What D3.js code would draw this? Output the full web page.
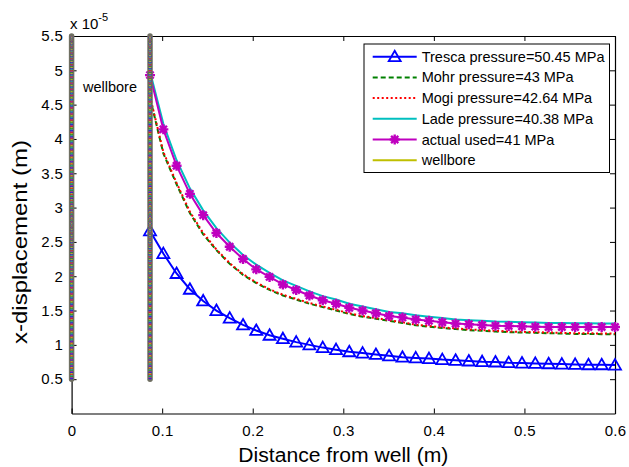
<!DOCTYPE html>
<html><head><meta charset="utf-8">
<script src="https://cdn.jsdelivr.net/npm/d3@7"></script>
<style>body{margin:0;background:#fff}svg{display:block;font-family:"Liberation Sans",Arial,sans-serif}</style>
</head><body><svg id="c" width="629" height="467"></svg>
<script>
// ---- data (values in units of 1e-5 m) ----
const distance = [0.0866,0.1013,0.1159,0.1306,0.1453,0.1599,0.1746,0.1893,0.2039,0.2186,0.2333,0.2480,0.2626,0.2773,0.2920,0.3066,0.3213,0.3360,0.3506,0.3653,0.3800,0.3946,0.4093,0.4240,0.4386,0.4533,0.4680,0.4826,0.4973,0.5120,0.5267,0.5413,0.5560,0.5707,0.5853,0.6000];
const tresca = [2.66,2.33,2.04,1.81,1.64,1.50,1.39,1.29,1.21,1.14,1.09,1.04,1.00,0.96,0.93,0.90,0.88,0.86,0.84,0.82,0.81,0.80,0.785,0.775,0.765,0.755,0.75,0.74,0.735,0.73,0.725,0.72,0.715,0.71,0.71,0.705];
const mohr = [4.60,3.79,3.34,2.92,2.61,2.38,2.18,2.02,1.90,1.80,1.72,1.66,1.60,1.55,1.50,1.45,1.41,1.38,1.35,1.32,1.285,1.265,1.245,1.23,1.215,1.205,1.195,1.185,1.18,1.175,1.17,1.165,1.16,1.16,1.155,1.155];
const mogi = [4.62,3.81,3.36,2.94,2.63,2.39,2.19,2.03,1.91,1.81,1.73,1.67,1.61,1.56,1.51,1.46,1.42,1.39,1.36,1.33,1.295,1.275,1.255,1.24,1.225,1.215,1.205,1.195,1.19,1.185,1.18,1.175,1.17,1.17,1.165,1.165];
const lade = [4.98,4.22,3.69,3.28,2.96,2.70,2.49,2.31,2.17,2.05,1.94,1.86,1.78,1.71,1.66,1.60,1.56,1.52,1.48,1.46,1.43,1.41,1.39,1.37,1.36,1.35,1.34,1.335,1.33,1.325,1.32,1.32,1.315,1.315,1.31,1.31];
const actual = [4.93,4.14,3.61,3.20,2.89,2.63,2.43,2.25,2.10,1.99,1.88,1.80,1.72,1.65,1.60,1.54,1.50,1.46,1.42,1.40,1.37,1.35,1.33,1.31,1.30,1.29,1.28,1.275,1.27,1.265,1.26,1.26,1.26,1.26,1.26,1.26];
const wellboreX = [0, 0.0866];
const wellboreY = [0.5, 5.5];
const xTicks = [0,0.1,0.2,0.3,0.4,0.5,0.6];
const yTicks = [0.5,1,1.5,2,2.5,3,3.5,4,4.5,5,5.5];
const legendLabels = ["Tresca pressure=50.45 MPa","Mohr pressure=43 MPa","Mogi pressure=42.64 MPa","Lade pressure=40.38 MPa","actual used=41 MPa","wellbore"];

const svg = d3.select("#c");
const L=71.6, R=615, T=36, B=413.5;
const x = d3.scaleLinear().domain([0,0.6]).range([L,R]);
const y = d3.scaleLinear().domain([0,5.5]).range([B,T]);

// axes frame
const g = svg.append("g");
const tickLen = 5;
function axisStyle(sel){ sel.select(".domain").attr("stroke","#000").attr("stroke-width",1.2); sel.selectAll(".tick line").attr("stroke","#000"); sel.selectAll("text").attr("fill","#000").style("font-size","15px").style("letter-spacing","0.3px"); }
g.append("g").attr("transform",`translate(0,${B})`).call(d3.axisBottom(x).tickValues(xTicks).tickFormat(d3.format("")).tickSizeInner(-tickLen).tickSizeOuter(0).tickPadding(12)).call(axisStyle);
g.append("g").attr("transform",`translate(0,${T})`).call(d3.axisTop(x).tickValues(xTicks).tickFormat("").tickSizeInner(-tickLen).tickSizeOuter(0)).call(axisStyle);
g.append("g").attr("transform",`translate(${L},0)`).call(d3.axisLeft(y).tickValues(yTicks).tickFormat(d3.format("")).tickSizeInner(-tickLen).tickSizeOuter(0).tickPadding(8.5)).call(axisStyle);
g.append("g").attr("transform",`translate(${R},0)`).call(d3.axisRight(y).tickValues(yTicks).tickFormat("").tickSizeInner(-tickLen).tickSizeOuter(0)).call(axisStyle);

// exponent label
const ex = svg.append("text").attr("x",70).attr("y",29).style("font-size","15px");
ex.append("tspan").text("x 10");
ex.append("tspan").attr("dy",-8).style("font-size","11px").text("-5");

// axis titles
svg.append("text").attr("x",(L+R)/2).attr("y",462).attr("text-anchor","middle").style("font-size","20px").attr("textLength",210).attr("lengthAdjust","spacingAndGlyphs").text("Distance from well (m)");
svg.append("text").attr("transform",`translate(27,${(140+344)/2}) rotate(-90)`).attr("text-anchor","middle").style("font-size","20px").attr("textLength",204).attr("lengthAdjust","spacingAndGlyphs").text("x-displacement (m)");

const line = d3.line().x((d,i)=>x(distance[i])).y(d=>y(d));
const plot = svg.append("g");
const triPath = "M0,-6L6,4.5L-6,4.5Z";
const starPath = "M0,-5V5M-5,0H5M-3.6,-3.6L3.6,3.6M-3.6,3.6L3.6,-3.6";

// Tresca
plot.append("path").attr("d",line(tresca)).attr("fill","none").attr("stroke","#0000ff").attr("stroke-width",2);
plot.selectAll(".tri").data(tresca).enter().append("path").attr("d",triPath)
  .attr("transform",(d,i)=>`translate(${x(distance[i])},${y(d)})`).attr("fill","none").attr("stroke","#0000ff").attr("stroke-width",1.8);
// Mohr
plot.append("path").attr("d",line(mohr)).attr("fill","none").attr("stroke","#008000").attr("stroke-width",2).attr("stroke-dasharray","5,3");
// Mogi
plot.append("path").attr("d",line(mogi)).attr("fill","none").attr("stroke","#ff0000").attr("stroke-width",2).attr("stroke-dasharray","2,2.5");
// Lade
plot.append("path").attr("d",line(lade)).attr("fill","none").attr("stroke","#00bfbf").attr("stroke-width",2);
// actual
plot.append("path").attr("d",line(actual)).attr("fill","none").attr("stroke","#bf00bf").attr("stroke-width",2);
plot.selectAll(".star").data(actual).enter().append("path").attr("d",starPath)
  .attr("transform",(d,i)=>`translate(${x(distance[i])},${y(d)})`).attr("fill","none").attr("stroke","#bf00bf").attr("stroke-width",2.4);

// wellbore lines
const wellColors = [["#6f6f62",null,0,5.5],["#2222cc","1.2,5",0,3],["#cc2222","1.2,5",2,3],["#2a8a2a","1.2,5",4,3],["#c8c820","1,5",1,2],["#20b0b0","1,5",3,2],["#b020b0","1,5",5,2]];
wellboreX.forEach(wx=>{
  wellColors.forEach(([c,da,off,w])=>{
    plot.append("line").attr("x1",x(wx)).attr("x2",x(wx)).attr("y1",y(wellboreY[0])).attr("y2",y(wellboreY[1]))
      .attr("stroke",c).attr("stroke-width",w).attr("stroke-linecap",da?"butt":"round")
      .attr("stroke-dasharray",da).attr("stroke-dashoffset",off);
  });
});
svg.append("text").attr("x",83).attr("y",92).style("font-size","14.5px").text("wellbore");

// legend
const lg = svg.append("g");
lg.append("rect").attr("x",364).attr("y",44).attr("width",245.5).attr("height",128.5).attr("fill","#fff").attr("stroke","#000").attr("stroke-width",1);
const styles = [
  {c:"#0000ff",da:null,m:"tri"},{c:"#008000",da:"5,3"},{c:"#ff0000",da:"2,2.5"},{c:"#00bfbf",da:null},{c:"#bf00bf",da:null,m:"star"},{c:"#bfbf00",da:null}];
legendLabels.forEach((lab,i)=>{
  const cy = 56.7 + i*20.7;
  lg.append("line").attr("x1",372.7).attr("x2",416.7).attr("y1",cy).attr("y2",cy).attr("stroke",styles[i].c).attr("stroke-width",2).attr("stroke-dasharray",styles[i].da);
  if(styles[i].m==="tri") lg.append("path").attr("d",triPath).attr("transform",`translate(394.7,${cy})`).attr("fill","none").attr("stroke",styles[i].c).attr("stroke-width",1.8);
  if(styles[i].m==="star") lg.append("path").attr("d",starPath).attr("transform",`translate(394.7,${cy})`).attr("fill","none").attr("stroke",styles[i].c).attr("stroke-width",2.4);
  lg.append("text").attr("x",421.7).attr("y",cy+5).style("font-size","14.5px").text(lab);
});
</script></body></html>
